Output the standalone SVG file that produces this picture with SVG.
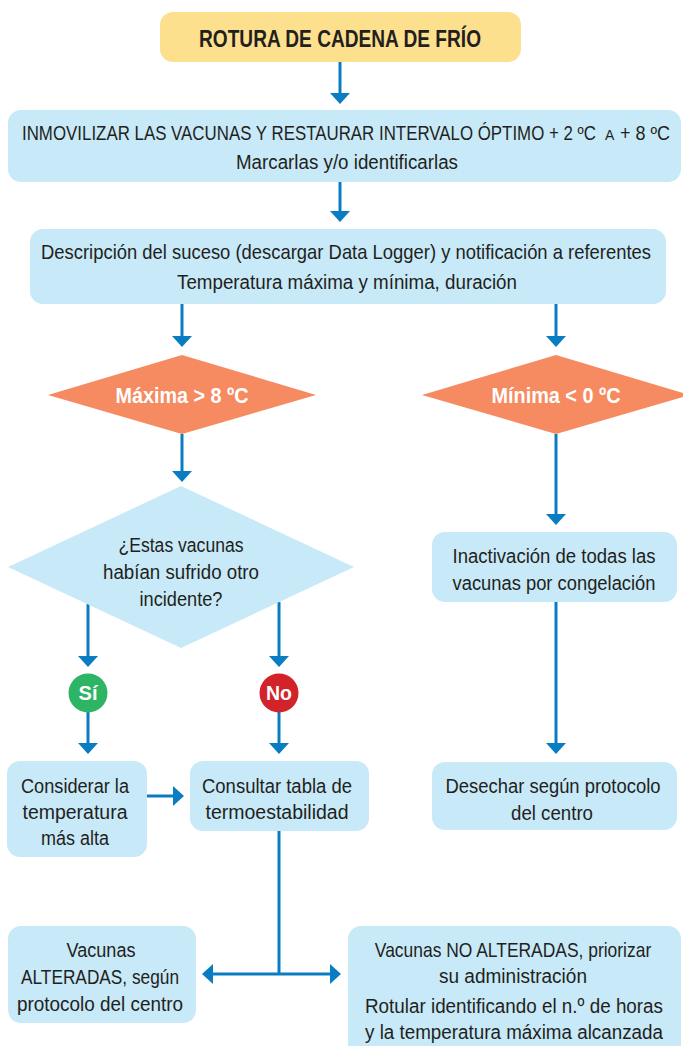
<svg xmlns="http://www.w3.org/2000/svg" width="683" height="1046" viewBox="0 0 683 1046">
<defs>
<style>
.box{fill:#C8E9F8;}
.title{fill:#FDE08E;}
.dec{fill:#F68A61;}
.t{font-family:"Liberation Sans",Arial,sans-serif;font-size:20px;fill:#231F20;text-anchor:middle;}
.ts{font-family:"Liberation Sans",Arial,sans-serif;font-size:20px;fill:#231F20;text-anchor:start;}
.tsm{font-family:"Liberation Sans",Arial,sans-serif;font-size:14px;fill:#231F20;text-anchor:start;}
.tb{font-family:"Liberation Sans",Arial,sans-serif;font-weight:bold;text-anchor:middle;}
.c{stroke:#0A7DC2;stroke-width:3;fill:none;}
</style>
<marker id="ah" viewBox="0 0 11 20" refX="9" refY="10" markerWidth="11" markerHeight="20" markerUnits="userSpaceOnUse" orient="auto-start-reverse">
<path d="M0,0 L11,10 L0,20 Z" fill="#0A7DC2"/>
</marker>
</defs>
<rect width="683" height="1046" fill="#FFFFFF"/>
<g id="connectors">
<line class="c" x1="340" y1="62" x2="340" y2="102" marker-end="url(#ah)"/>
<line class="c" x1="340" y1="182" x2="340" y2="220" marker-end="url(#ah)"/>
<line class="c" x1="182" y1="303" x2="182" y2="345" marker-end="url(#ah)"/>
<line class="c" x1="556" y1="303" x2="556" y2="345" marker-end="url(#ah)"/>
<line class="c" x1="182" y1="434" x2="182" y2="480" marker-end="url(#ah)"/>
<line class="c" x1="556" y1="434" x2="556" y2="523" marker-end="url(#ah)"/>
<line class="c" x1="88" y1="604" x2="88" y2="665" marker-end="url(#ah)"/>
<line class="c" x1="279" y1="602" x2="279" y2="665" marker-end="url(#ah)"/>
<line class="c" x1="88" y1="712" x2="88" y2="752" marker-end="url(#ah)"/>
<line class="c" x1="279" y1="712" x2="279" y2="752" marker-end="url(#ah)"/>
<line class="c" x1="147" y1="796" x2="182" y2="796" marker-end="url(#ah)"/>
<line class="c" x1="556" y1="602" x2="556" y2="752" marker-end="url(#ah)"/>
<line class="c" x1="279" y1="831" x2="279" y2="974"/>
<line class="c" x1="204" y1="974" x2="339" y2="974" marker-start="url(#ah)" marker-end="url(#ah)"/>
</g>
<g id="n-rotura">
<rect class="title" x="160" y="12" width="361" height="50" rx="13"/>
<text class="tb" x="340" y="47" font-size="24" fill="#231F20" textLength="282" lengthAdjust="spacingAndGlyphs">ROTURA DE CADENA DE FRÍO</text>
</g>
<g id="n-inmovilizar">
<rect class="box" x="8" y="110" width="673" height="72" rx="13"/>
<text class="ts" transform="translate(22,140) scale(0.844,1)">INMOVILIZAR LAS VACUNAS Y RESTAURAR INTERVALO ÓPTIMO + 2 ºC</text>
<text class="tsm" x="605" y="140">A</text>
<text class="ts" transform="translate(620,140) scale(0.898,1)">+ 8 ºC</text>
<text class="t" x="347" y="169" textLength="222" lengthAdjust="spacingAndGlyphs">Marcarlas y/o identificarlas</text>
</g>
<g id="n-descripcion">
<rect class="box" x="30" y="229" width="636" height="75" rx="13"/>
<text class="t" transform="translate(346,259) scale(0.921,1)">Descripción del suceso (descargar Data Logger) y notificación a referentes</text>
<text class="t" x="347" y="289" textLength="340" lengthAdjust="spacingAndGlyphs">Temperatura máxima y mínima, duración</text>
</g>
<g id="n-maxima">
<polygon class="dec" points="182,355 316,395 182,434 48,395"/>
<text class="tb" x="182" y="403" font-size="22" fill="#FFFFFF" textLength="133" lengthAdjust="spacingAndGlyphs">Máxima &gt; 8 ºC</text>
</g>
<g id="n-minima">
<polygon class="dec" points="556,355 690,395 556,434 422,395"/>
<text class="tb" x="556" y="403" font-size="22" fill="#FFFFFF" textLength="129" lengthAdjust="spacingAndGlyphs">Mínima &lt; 0 ºC</text>
</g>
<g id="n-incidente">
<polygon class="box" points="181,486 354,567 181,648 8,567"/>
<text class="t" x="181" y="552" textLength="125" lengthAdjust="spacingAndGlyphs">¿Estas vacunas</text>
<text class="t" x="181" y="579" textLength="156" lengthAdjust="spacingAndGlyphs">habían sufrido otro</text>
<text class="t" x="181" y="606" textLength="83" lengthAdjust="spacingAndGlyphs">incidente?</text>
</g>
<g id="n-si">
<circle cx="88" cy="693" r="19.5" fill="#2DB465"/>
<text class="tb" x="88" y="700" font-size="20" fill="#FFFFFF">Sí</text>
</g>
<g id="n-no">
<circle cx="279" cy="693" r="19.5" fill="#D2232A"/>
<text class="tb" x="279" y="700" font-size="20" fill="#FFFFFF" textLength="26" lengthAdjust="spacingAndGlyphs">No</text>
</g>
<g id="n-inactivacion">
<rect class="box" x="432" y="532" width="245" height="70" rx="13"/>
<text class="t" x="554" y="563" textLength="203" lengthAdjust="spacingAndGlyphs">Inactivación de todas las</text>
<text class="t" x="554" y="590" textLength="203" lengthAdjust="spacingAndGlyphs">vacunas por congelación</text>
</g>
<g id="n-considerar">
<rect class="box" x="7" y="761" width="140" height="96" rx="13"/>
<text class="t" x="75" y="793" textLength="108" lengthAdjust="spacingAndGlyphs">Considerar la</text>
<text class="t" x="75" y="819" textLength="105" lengthAdjust="spacingAndGlyphs">temperatura</text>
<text class="t" x="75" y="845" textLength="68" lengthAdjust="spacingAndGlyphs">más alta</text>
</g>
<g id="n-consultar">
<rect class="box" x="190" y="761" width="179" height="70" rx="13"/>
<text class="t" x="277" y="793" textLength="150" lengthAdjust="spacingAndGlyphs">Consultar tabla de</text>
<text class="t" x="277" y="819" textLength="143" lengthAdjust="spacingAndGlyphs">termoestabilidad</text>
</g>
<g id="n-desechar">
<rect class="box" x="432" y="762" width="245" height="68" rx="13"/>
<text class="t" x="553" y="793" textLength="215" lengthAdjust="spacingAndGlyphs">Desechar según protocolo</text>
<text class="t" x="552" y="820" textLength="82" lengthAdjust="spacingAndGlyphs">del centro</text>
</g>
<g id="n-alteradas">
<rect class="box" x="8" y="926" width="188" height="97" rx="13"/>
<text class="t" x="101" y="957" textLength="69" lengthAdjust="spacingAndGlyphs">Vacunas</text>
<text class="t" x="100" y="984" textLength="158" lengthAdjust="spacingAndGlyphs">ALTERADAS, según</text>
<text class="t" x="100" y="1011" textLength="166" lengthAdjust="spacingAndGlyphs">protocolo del centro</text>
</g>
<g id="n-no-alteradas">
<rect class="box" x="348" y="926" width="333" height="135" rx="13"/>
<text class="t" transform="translate(513,957) scale(0.872,1)">Vacunas NO ALTERADAS, priorizar</text>
<text class="t" x="513" y="983" textLength="148" lengthAdjust="spacingAndGlyphs">su administración</text>
<text class="t" x="514" y="1013" textLength="298" lengthAdjust="spacingAndGlyphs">Rotular identificando el n.º de horas</text>
<text class="t" x="514" y="1039" textLength="298" lengthAdjust="spacingAndGlyphs">y la temperatura máxima alcanzada</text>
</g>
</svg>
